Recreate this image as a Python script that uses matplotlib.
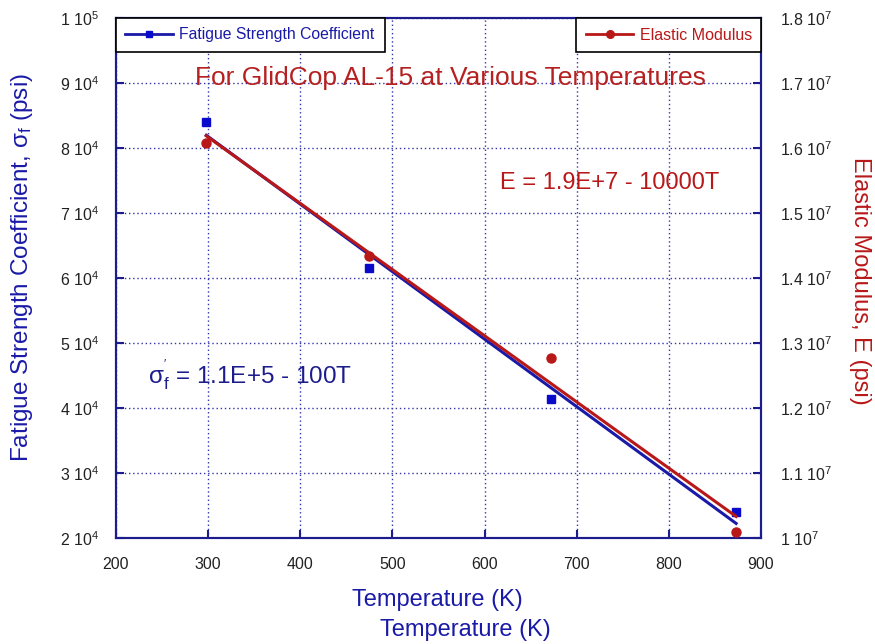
import numpy as np
import matplotlib
matplotlib.use("Agg")
import matplotlib.pyplot as plt
from matplotlib.ticker import FixedLocator, FixedFormatter

plt.rcParams['font.family'] = ['Liberation Sans', 'DejaVu Sans']
plt.rcParams['mathtext.fontset'] = 'custom'
plt.rcParams['mathtext.rm'] = 'Liberation Sans'
plt.rcParams['mathtext.it'] = 'Liberation Sans'
plt.rcParams['mathtext.bf'] = 'Liberation Sans:bold'

# ---- data ----
temperature = [298, 475, 672, 873]
fatigue_strength = [84000, 61500, 41400, 24000]
elastic_modulus = [1.608e7, 1.434e7, 1.277e7, 1.009e7]

x_ticks = [200, 300, 400, 500, 600, 700, 800, 900]
left_ticks = [2e4, 3e4, 4e4, 5e4, 6e4, 7e4, 8e4, 9e4, 1e5]
left_labels = [r'2 10$^{4}$', r'3 10$^{4}$', r'4 10$^{4}$', r'5 10$^{4}$', r'6 10$^{4}$',
               r'7 10$^{4}$', r'8 10$^{4}$', r'9 10$^{4}$', r'1 10$^{5}$']
right_ticks = [1.0e7, 1.1e7, 1.2e7, 1.3e7, 1.4e7, 1.5e7, 1.6e7, 1.7e7, 1.8e7]
right_labels = [r'1 10$^{7}$', r'1.1 10$^{7}$', r'1.2 10$^{7}$', r'1.3 10$^{7}$', r'1.4 10$^{7}$',
                r'1.5 10$^{7}$', r'1.6 10$^{7}$', r'1.7 10$^{7}$', r'1.8 10$^{7}$']

blue = '#0a0acc'
blue_line = '#1a1aa8'
red = '#b81818'
navy = '#1c1c8c'

W, H = 875, 644
fig = plt.figure(figsize=(W / 100, H / 100), dpi=100)
ax = fig.add_axes([116 / W, (H - 538) / H, 645 / W, 520 / H])
ax2 = ax.twinx()

# least-squares fits drawn from the data, as in the original
T = np.array(temperature, dtype=float)
pb = np.polyfit(T, fatigue_strength, 1)
pr = np.polyfit(T, elastic_modulus, 1)
xfit = np.array([T.min(), T.max()])

ax.plot(xfit, np.polyval(pb, xfit), color=blue_line, lw=2.2, zorder=3)
ax.plot(temperature, fatigue_strength, 's', color=blue, ms=6, zorder=4)
ax2.plot(xfit, np.polyval(pr, xfit), color=red, lw=2.2, zorder=3)
ax2.plot(temperature, elastic_modulus, 'o', color=red, ms=6.5, zorder=4)

ax.set_xlim(200, 900)
ax.set_ylim(2e4, 1e5)
ax2.set_ylim(1e7, 1.8e7)

ax.xaxis.set_major_locator(FixedLocator(x_ticks))
ax.yaxis.set_major_locator(FixedLocator(left_ticks))
ax.yaxis.set_major_formatter(FixedFormatter(left_labels))
ax2.yaxis.set_major_locator(FixedLocator(right_ticks))
ax2.yaxis.set_major_formatter(FixedFormatter(right_labels))

ax.grid(True, color='#3333aa', linestyle=(0, (1, 2)), lw=1)
ax.tick_params(axis='both', direction='in', length=6, width=1.5, color=navy,
               labelsize=11.5, labelcolor='#222222')
ax.tick_params(axis='y', pad=12)
ax.tick_params(axis='x', pad=14)
ax2.tick_params(axis='y', direction='in', length=6, width=1.5, color=navy,
                labelsize=11.5, labelcolor='#222222', pad=14)
for a in (ax, ax2):
    for s in a.spines.values():
        s.set_color(navy)
        s.set_linewidth(1.5)

# legends
h1, = ax.plot([], [], '-s', color=blue_line, mfc=blue, mec=blue, ms=5, lw=2)
h2, = ax.plot([], [], '-o', color=red, ms=5.5, lw=2)
leg1 = ax2.legend([h1], ['Fatigue Strength Coefficient'], loc='upper left',
                  bbox_to_anchor=(0, 0, 269 / 645, 1), mode='expand',
                  borderaxespad=0, fancybox=False, edgecolor='black', framealpha=1,
                  fontsize=11.3, borderpad=0.6, handlelength=3.0, handletextpad=0.4,
                  labelcolor=blue_line)
leg1.get_frame().set_linewidth(1.2)
ax2.add_artist(leg1)
leg2 = ax2.legend([h2], ['Elastic Modulus'], loc='upper right',
                  bbox_to_anchor=(1 - 185 / 645, 0, 185 / 645, 1), mode='expand',
                  borderaxespad=0, fancybox=False, edgecolor='black', framealpha=1,
                  fontsize=11.5, borderpad=0.6, handlelength=3.0, handletextpad=0.4,
                  labelcolor=red)
leg2.get_frame().set_linewidth(1.2)

# annotations
fig.text(450 / W, 1 - 78 / H, 'For GlidCop AL-15 at Various Temperatures',
         color='#b52020', fontsize=19, ha='center', va='center')
fig.text(610 / W, 1 - 183 / H, 'E = 1.9E+7 - 10000T', color=red,
         fontsize=17, ha='center', va='center')
fig.text(148 / W, 1 - 375 / H, r"$\mathrm{σ}_{f}^{'}$ = 1.1E+5 - 100T", color=navy,
         fontsize=17.5, ha='left', va='center')

fig.text(22 / W, 1 - 268 / H, r'Fatigue Strength Coefficient, $\mathrm{σ}_{f}$ (psi)',
         color=blue_line, fontsize=17.5, rotation=90, ha='center', va='center')
fig.text(860 / W, 1 - 281 / H, 'Elastic Modulus, E (psi)', color=red,
         fontsize=17, rotation=270, ha='center', va='center')
fig.text(437 / W, 1 - 600 / H, 'Temperature (K)', color=blue_line,
         fontsize=17, ha='center', va='center')
fig.text(465 / W, 1 - 630 / H, 'Temperature (K)', color=blue_line,
         fontsize=17, ha='center', va='center')

fig.savefig('out.png', dpi=100, facecolor='white')
